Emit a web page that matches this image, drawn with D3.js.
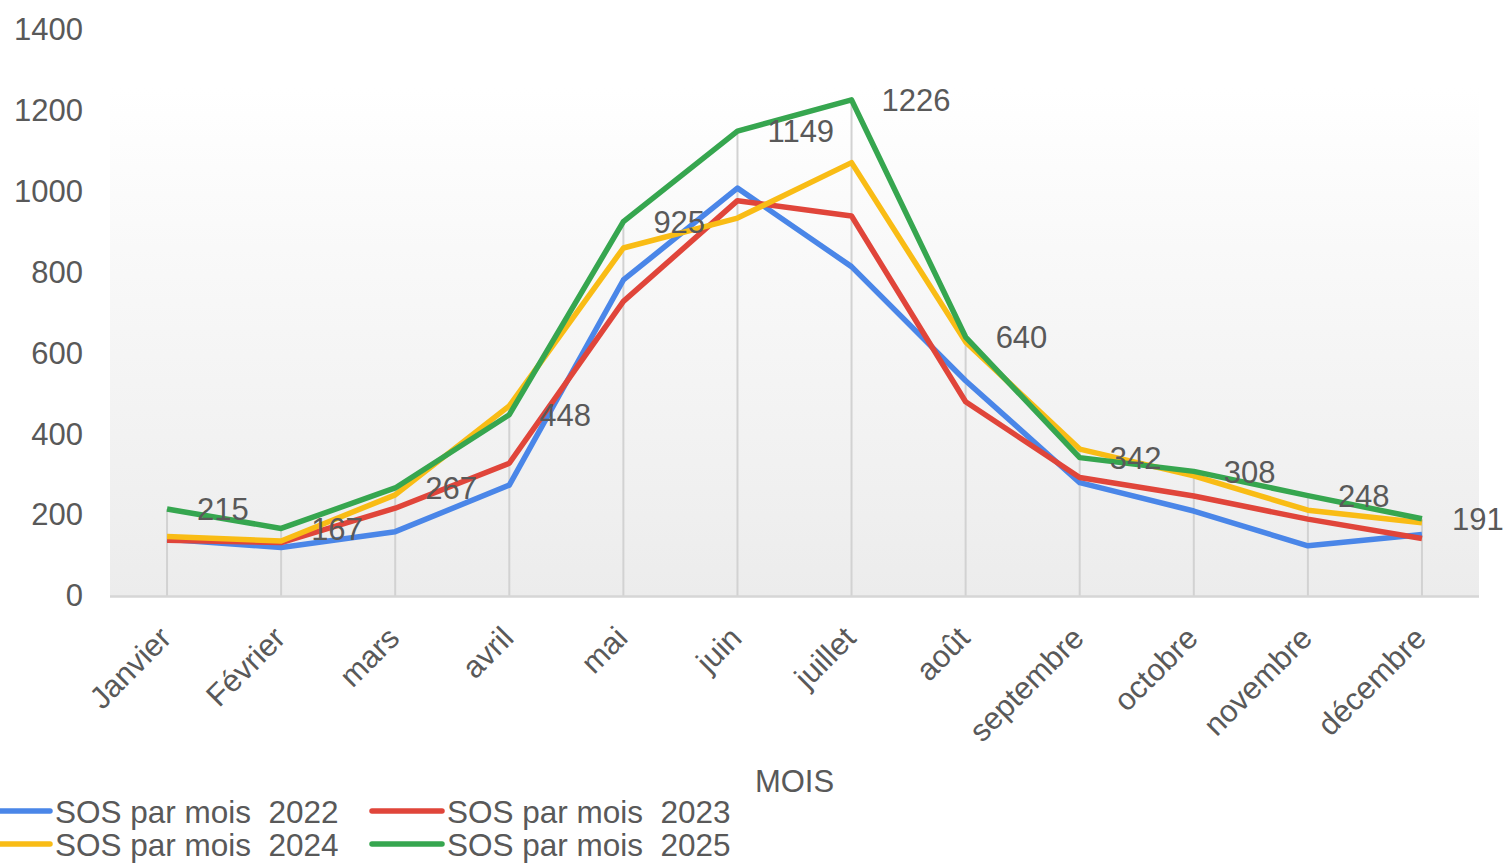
<!DOCTYPE html>
<html><head><meta charset="utf-8">
<script src="https://cdn.jsdelivr.net/npm/d3@7"></script>
<style>
html,body{margin:0;padding:0;background:#fff;overflow:hidden}
text{font-family:"Liberation Sans",Arial,sans-serif;fill:#595959}
</style></head>
<body><svg id="c" width="1505" height="864"></svg>
<script>
const months = ["Janvier","Février","mars","avril","mai","juin","juillet","août","septembre","octobre","novembre","décembre"];
const seriesNames = ["SOS par mois  2022","SOS par mois  2023","SOS par mois  2024","SOS par mois  2025"];
const colors = ["#4a86e8","#e0453a","#f9bc15","#36a64f"];
const v2022 = [140,120,159,274,781,1008,814,532,280,210,124,152];
const v2023 = [138,132,217,328,728,977,939,480,293,247,190,142];
const v2024 = [147,136,250,470,860,934,1071,628,363,297,212,181];
const v2025 = [215,167,267,448,925,1149,1226,640,342,308,248,191];
const yTicks = [0,200,400,600,800,1000,1200,1400];
const axisTitle = "MOIS";

const allSeries = [v2022,v2023,v2024,v2025];
const svg = d3.select("#c");
const L=110, R=1479, B=596, T=29.5;
const x = d3.scaleBand().domain(months).range([L,R]);
const cx = m => x(m)+x.bandwidth()/2;
const y = d3.scaleLinear().domain([0,1400]).range([B,T]);

const defs = svg.append("defs");
const g = defs.append("linearGradient").attr("id","bg").attr("x1",0).attr("y1",0).attr("x2",0).attr("y2",1);
g.append("stop").attr("offset","0%").attr("stop-color","#ffffff");
g.append("stop").attr("offset","100%").attr("stop-color","#ececec");
svg.append("rect").attr("x",L).attr("y",88).attr("width",R-L).attr("height",B-88).attr("fill","url(#bg)");

// drop lines
svg.append("g").selectAll("line").data(months).join("line")
  .attr("x1",d=>cx(d)).attr("x2",d=>cx(d))
  .attr("y1",B).attr("y2",(d,i)=>y(d3.max(allSeries,s=>s[i])))
  .attr("stroke","#d2d2d2").attr("stroke-width",2);

// x axis line
svg.append("line").attr("x1",L).attr("x2",R).attr("y1",B+0.5).attr("y2",B+0.5).attr("stroke","#d6d6d6").attr("stroke-width",2.5);

// y axis labels
const ya = svg.append("g").attr("transform",`translate(${83},0)`)
  .call(d3.axisLeft(y).tickValues(yTicks).tickSize(0).tickPadding(0).tickFormat(d3.format("d")));
ya.select(".domain").remove();
ya.selectAll("text").style("font-size","31px").attr("fill","#595959").attr("font-family","Liberation Sans, Arial, sans-serif");

// x labels
svg.append("g").selectAll("text").data(months).join("text")
  .attr("transform",d=>`translate(${cx(d)+6},${640}) rotate(-45)`)
  .attr("text-anchor","end").style("font-size","31px").text(d=>d);

// lines
const line = d3.line().x((d,i)=>cx(months[i])).y(d=>y(d));
allSeries.forEach((s,k)=>{
  svg.append("path").datum(s).attr("d",line).attr("fill","none")
    .attr("stroke",colors[k]).attr("stroke-width",5.5).attr("stroke-linejoin","round");
});

// data labels for 2025
svg.append("g").selectAll("text").data(v2025).join("text")
  .attr("x",(d,i)=>cx(months[i])+30).attr("y",d=>y(d)).attr("dy","0.36em")
  .style("font-size","31px").text(d=>d);

// axis title
svg.append("text").attr("x",(L+R)/2).attr("y",792).attr("text-anchor","middle").style("font-size","31px").text(axisTitle);

// legend
const legPos = [[0,811,-20],[392,811,372],[0,844,-20],[392,844,372]];
seriesNames.forEach((n,k)=>{
  const [lx,ly,ls]=legPos[k];
  svg.append("line").attr("x1",ls).attr("x2",lx+50).attr("y1",ly).attr("y2",ly)
    .attr("stroke",colors[k]).attr("stroke-width",5.5).attr("stroke-linecap","round");
  svg.append("text").attr("x",lx+55).attr("y",ly+1).attr("dy","0.36em")
    .style("font-size","31.5px").style("white-space","pre").attr("xml:space","preserve").text(n);
});
</script></body></html>
